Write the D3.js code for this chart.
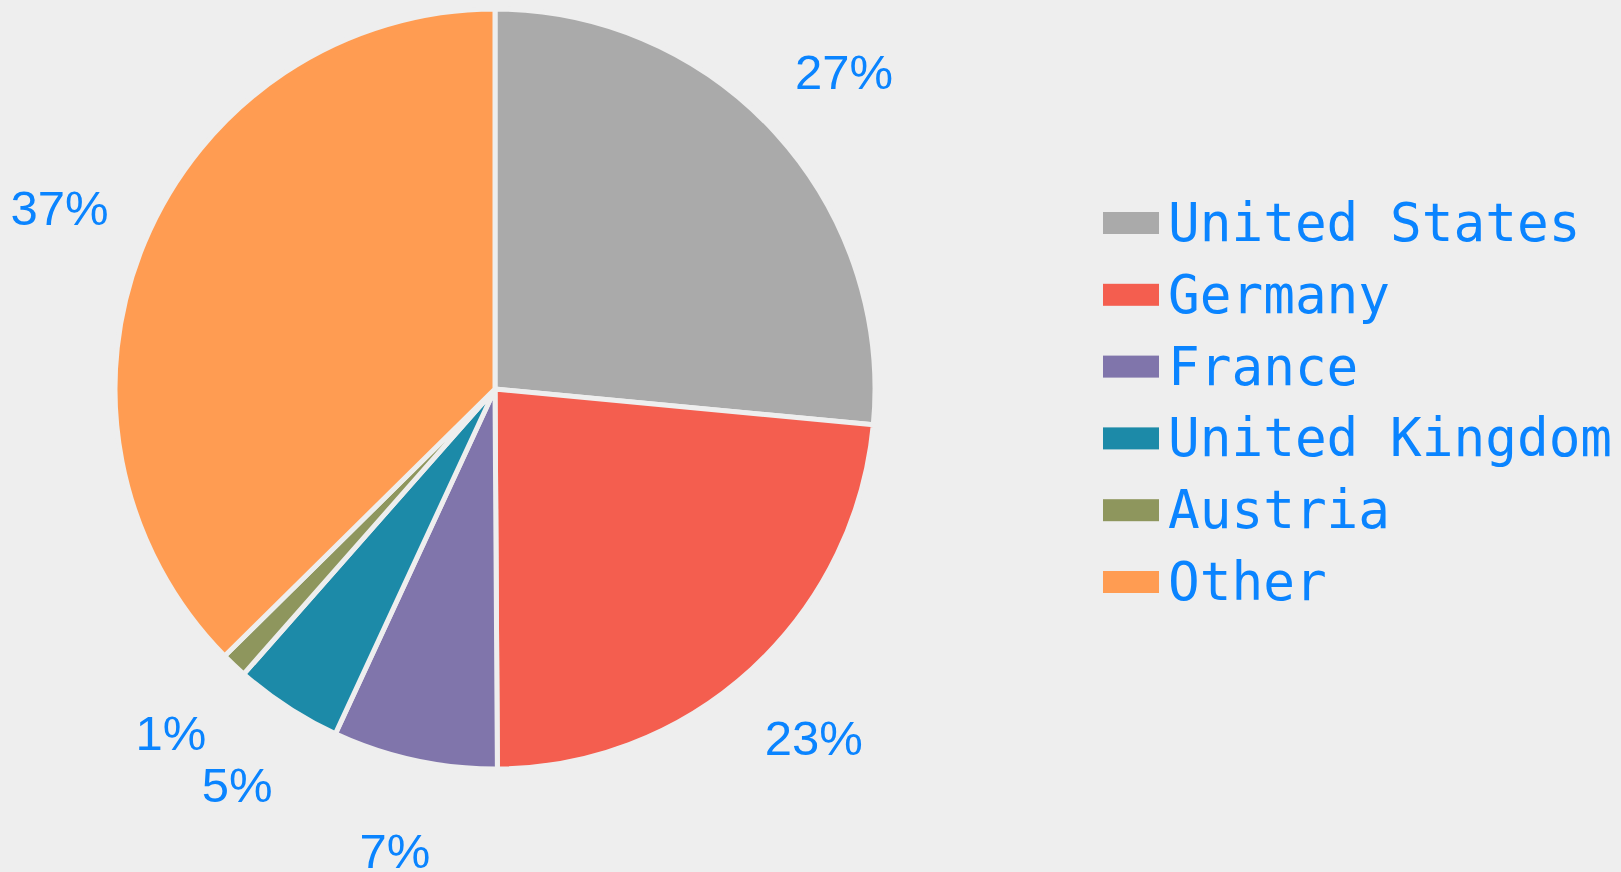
<!DOCTYPE html>
<html>
<head>
<meta charset="utf-8">
<script src="https://cdn.jsdelivr.net/npm/d3@7"></script>
<style>
  html, body { margin: 0; padding: 0; background: #eeeeee; }
  svg { display: block; }
</style>
</head>
<body>
<svg id="chart" width="1621" height="872"></svg>
<script>
// data
var countries = ["United States", "Germany", "France", "United Kingdom", "Austria", "Other"];
var shares = [26.5, 23.4, 7.0, 4.6, 1.1, 37.4];
var colors = ["#aaaaaa", "#f45e4f", "#8075ab", "#1c8aa8", "#8e965d", "#ff9c52"];

var width = 1621
  , height = 872
  , cx = 495
  , cy = 389
  , radius = 380
  , labelRadius = 472

var data = countries.map(function(c, i) { return {name: c, value: shares[i]}; });
var total = d3.sum(shares);

var svg = d3.select("#chart");

svg.append("rect")
    .attr("width", width)
    .attr("height", height)
    .attr("fill", "#eeeeee");

var color = d3.scaleOrdinal()
    .domain(countries)
    .range(colors);

var pie = d3.pie()
    .sort(null)
    .value(function(d) { return d.value; });

var arc = d3.arc()
    .innerRadius(0)
    .outerRadius(radius);

var labelArc = d3.arc()
    .innerRadius(labelRadius)
    .outerRadius(labelRadius);

var g = svg.append("g")
    .attr("transform", "translate(" + cx + "," + cy + ")");

var arcs = pie(data);

g.selectAll(".slice")
    .data(arcs)
  .enter().append("path")
    .attr("class", "slice")
    .attr("d", arc)
    .attr("fill", function(d) { return color(d.data.name); })
    .attr("stroke", "#eeeeee")
    .attr("stroke-width", 5)
    .attr("stroke-linejoin", "miter");

g.selectAll(".pct")
    .data(arcs)
  .enter().append("text")
    .attr("class", "pct")
    .attr("transform", function(d) { return "translate(" + labelArc.centroid(d) + ")"; })
    .attr("text-anchor", "middle")
    .attr("dy", "0.36em")
    .style("font-family", "'Liberation Sans', Arial, sans-serif")
    .style("font-size", "49px")
    .style("fill", "#0a84ff")
    .text(function(d) { return Math.round(d.data.value / total * 100) + "%"; });

// legend
var legend = svg.append("g")
    .attr("transform", "translate(1103,0)");

var ly = d3.scalePoint()
    .domain(countries)
    .range([223, 582]);

var item = legend.selectAll(".item")
    .data(countries)
  .enter().append("g")
    .attr("class", "item")
    .attr("transform", function(d) { return "translate(0," + ly(d) + ")"; });

item.append("rect")
    .attr("x", 0)
    .attr("y", -11)
    .attr("width", 56)
    .attr("height", 22)
    .attr("fill", function(d) { return color(d); });

item.append("text")
    .attr("x", 65)
    .attr("y", 18)
    .style("font-family", "'DejaVu Sans Mono', 'Liberation Mono', monospace")
    .style("font-size", "52.7px")
    .style("fill", "#0a84ff")
    .text(function(d) { return d; });
</script>
</body>
</html>
